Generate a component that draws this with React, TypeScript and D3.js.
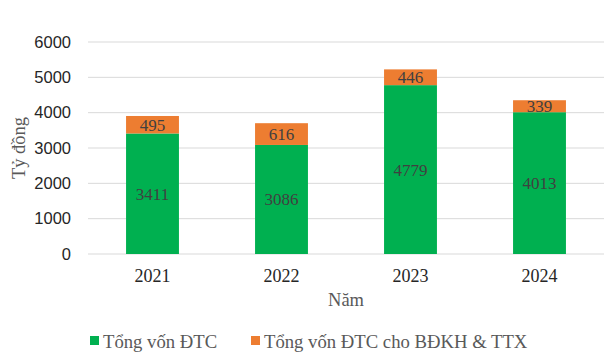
import React from 'react'
import * as d3 from 'd3'

const years = ['2021', '2022', '2023', '2024']
const tongVon = [3411, 3086, 4779, 4013]
const bdkh = [495, 616, 446, 339]
const yTicks = [0, 1000, 2000, 3000, 4000, 5000, 6000]
const seriesNames = ['Tổng vốn ĐTC', 'Tổng vốn ĐTC cho BĐKH & TTX']
const colors = ['#00B050', '#ED7D31']

const W = 610
const H = 355
const serif = '"Liberation Serif", "Times New Roman", serif'
const sans = '"Liberation Sans", Arial, sans-serif'

export default function App() {
  const x = d3.scaleBand().domain(years).range([88, 604]).paddingInner(0.59).paddingOuter(0.295)
  const y = d3.scaleLinear().domain([0, 6000]).range([254, 42])

  const rows = years.map((yr, i) => ({ yr, a: tongVon[i], b: bdkh[i] }))
  const stacked = d3.stack<any>().keys(['a', 'b'])(rows)

  return (
    <svg width={W} height={H} style={{ position: 'absolute', left: 0, top: 0, background: '#fff' }}>
      {yTicks.map((t) => (
        <g key={t}>
          <line x1={88} x2={604} y1={y(t)} y2={y(t)} stroke="#D9D9D9" strokeWidth={1} />
          <text x={71} y={y(t)} dy="0.35em" textAnchor="end" fontFamily={sans} fontSize={16.5} fill="#262626">
            {t}
          </text>
        </g>
      ))}
      {stacked.map((s, si) => (
        <g key={si}>
          {s.map((d, i) => (
            <g key={i}>
              <rect
                x={x(years[i])}
                y={y(d[1])}
                width={x.bandwidth()}
                height={y(d[0]) - y(d[1])}
                fill={colors[si]}
              />
              <text
                x={(x(years[i]) as number) + x.bandwidth() / 2}
                y={(y(d[0]) + y(d[1])) / 2}
                dy="0.35em"
                textAnchor="middle"
                fontFamily={serif}
                fontSize={17}
                fill="#404040"
              >
                {d[1] - d[0]}
              </text>
            </g>
          ))}
        </g>
      ))}
      {years.map((yr) => (
        <text
          key={yr}
          x={(x(yr) as number) + x.bandwidth() / 2}
          y={276}
          dy="0.35em"
          textAnchor="middle"
          fontFamily={serif}
          fontSize={18}
          fill="#262626"
        >
          {yr}
        </text>
      ))}
      <text x={346} y={300} dy="0.35em" textAnchor="middle" fontFamily={serif} fontSize={18.5} fill="#595959">
        Năm
      </text>
      <text
        transform="translate(19,148) rotate(-90)"
        dy="0.35em"
        textAnchor="middle"
        fontFamily={serif}
        fontSize={18.5}
        fill="#595959"
      >
        Tỷ đồng
      </text>
      {seriesNames.map((n, i) => {
        const lx = i === 0 ? 90 : 251
        return (
          <g key={n}>
            <rect x={lx} y={336} width={9} height={9} fill={colors[i]} />
            <text x={lx + 13} y={341} dy="0.35em" fontFamily={serif} fontSize={18.7} fill="#595959">
              {n}
            </text>
          </g>
        )
      })}
    </svg>
  )
}
